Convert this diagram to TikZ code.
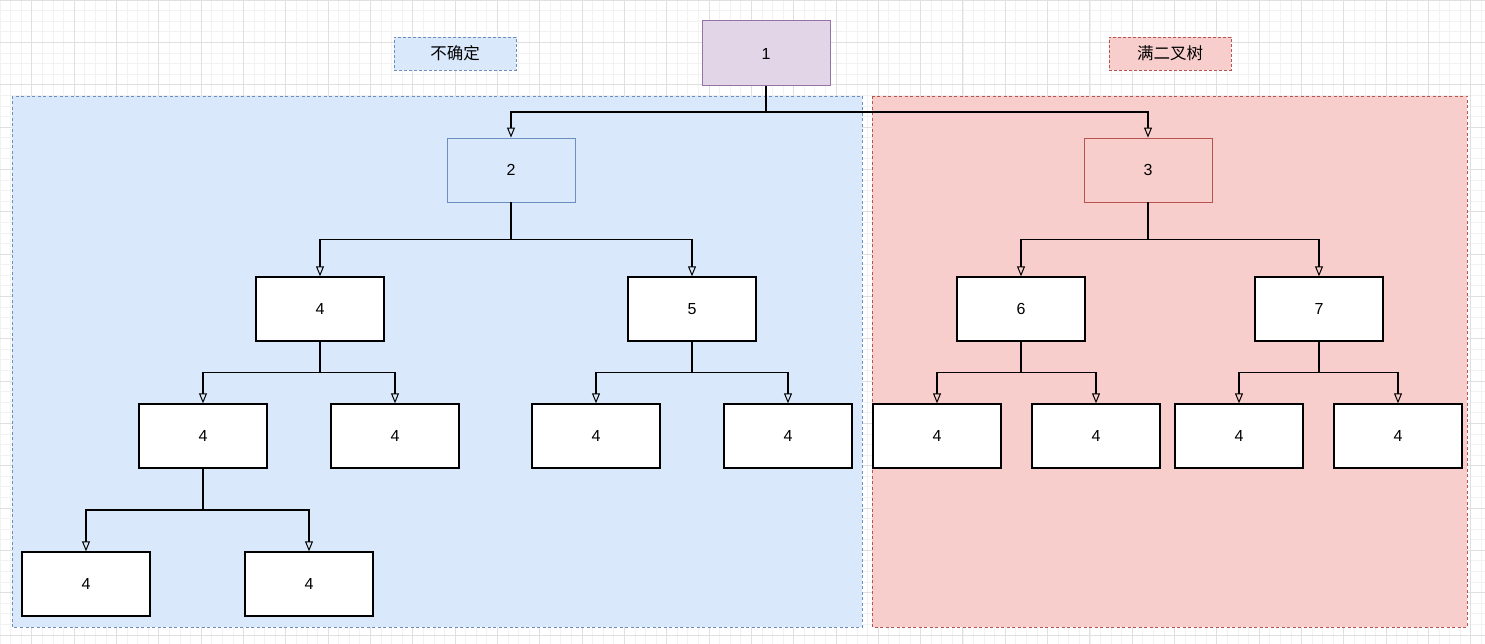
\documentclass[tikz,border=0pt]{standalone}
\usepackage{fontspec}
\setmainfont{Liberation Sans}
\newfontfamily\cjk{Noto Sans CJK SC}
\usetikzlibrary{arrows.meta,calc}
\definecolor{blueFill}{HTML}{DAE8FC}
\definecolor{blueLine}{HTML}{6C8EBF}
\definecolor{redFill}{HTML}{F8CECC}
\definecolor{redLine}{HTML}{B85450}
\definecolor{purpleFill}{HTML}{E1D5E7}
\definecolor{purpleLine}{HTML}{9673A6}

\begin{document}
\begin{tikzpicture}[x=1pt,y=-1pt,line width=1pt,
  treebox/.style={draw=black,fill=white,line width=1.4pt,minimum width=128pt,minimum height=64pt,
    inner sep=0pt,font=\fontsize{16}{19}\selectfont},
  tag/.style={draw,line width=0.8pt,dash pattern=on 3pt off 2pt,
    minimum width=122pt,minimum height=33pt,inner sep=0pt,font=\cjk\fontsize{16.5}{19}\selectfont},
  zone/.style={draw,line width=0.8pt,dash pattern=on 3pt off 2.5pt},
  link/.style={draw=black,line width=1.1pt,-{Triangle[open,length=10pt,width=8pt,line width=1pt]},
    to path={(\tikztostart) |- ($(\tikztostart)!0.5!(\tikztotarget)$) -| (\tikztotarget)}}]
\useasboundingbox (0,0) rectangle (1485,644);
% ---------- 背景网格 ----------
\fill[white] (0,0) rectangle (1485,644);
\foreach \i in {0,...,140}
  \draw[line width=0.5pt,black!5] (\i*10.58,0) -- (\i*10.58,644);
\foreach \i in {0,...,61}
  \draw[line width=0.5pt,black!5] (0,\i*10.58) -- (1485,\i*10.58);
\foreach \i in {0,...,34}
  \draw[line width=0.6pt,black!12] (31.74+\i*42.32,0) -- (31.74+\i*42.32,644);
\foreach \i in {0,...,15}
  \draw[line width=0.6pt,black!12] (0,\i*42.32) -- (1485,\i*42.32);
% ---------- 两个分区 ----------
\draw[zone,fill=blueFill,draw=blueLine] (12,96) rectangle (862,627);
\draw[zone,fill=redFill,draw=redLine] (872,96) rectangle (1467,627);
\node[tag,fill=blueFill,draw=blueLine] (tagA) at (455,53.5) {不确定};
\node[tag,fill=redFill,draw=redLine] (tagB) at (1170,53.5) {满二叉树};
% ---------- 根与第二层 ----------
\node[treebox,fill=purpleFill,draw=purpleLine,line width=1pt,minimum height=65pt] (n1) at (766,53.5) {1};
\node[treebox,fill=blueFill,draw=blueLine,line width=0.9pt] (n2) at (511,170) {2};
\node[treebox,fill=redFill,draw=redLine,line width=0.9pt] (n3) at (1148,170) {3};
% ---------- 第三层 ----------
\node[treebox] (n4) at (320,309) {4};
\node[treebox] (n5) at (692,309) {5};
\node[treebox] (n6) at (1021,309) {6};
\node[treebox] (n7) at (1319,309) {7};
% ---------- 第四层 ----------
\node[treebox] (n4a) at (203,436) {4};
\node[treebox] (n4b) at (395,436) {4};
\node[treebox] (n5a) at (596,436) {4};
\node[treebox] (n5b) at (788,436) {4};
\node[treebox] (n6a) at (937,436) {4};
\node[treebox] (n6b) at (1096,436) {4};
\node[treebox] (n7a) at (1239,436) {4};
\node[treebox] (n7b) at (1398,436) {4};
% ---------- 第五层 ----------
\node[treebox] (n8a) at (86,584) {4};
\node[treebox] (n8b) at (309,584) {4};
% ---------- 连线 ----------
\foreach \p/\c in {n1/n2,n1/n3,n2/n4,n2/n5,n3/n6,n3/n7,n4/n4a,n4/n4b,
  n5/n5a,n5/n5b,n6/n6a,n6/n6b,n7/n7a,n7/n7b,n4a/n8a,n4a/n8b}
  \draw (\p.south) edge[link] (\c.north);
\end{tikzpicture}
\end{document}
